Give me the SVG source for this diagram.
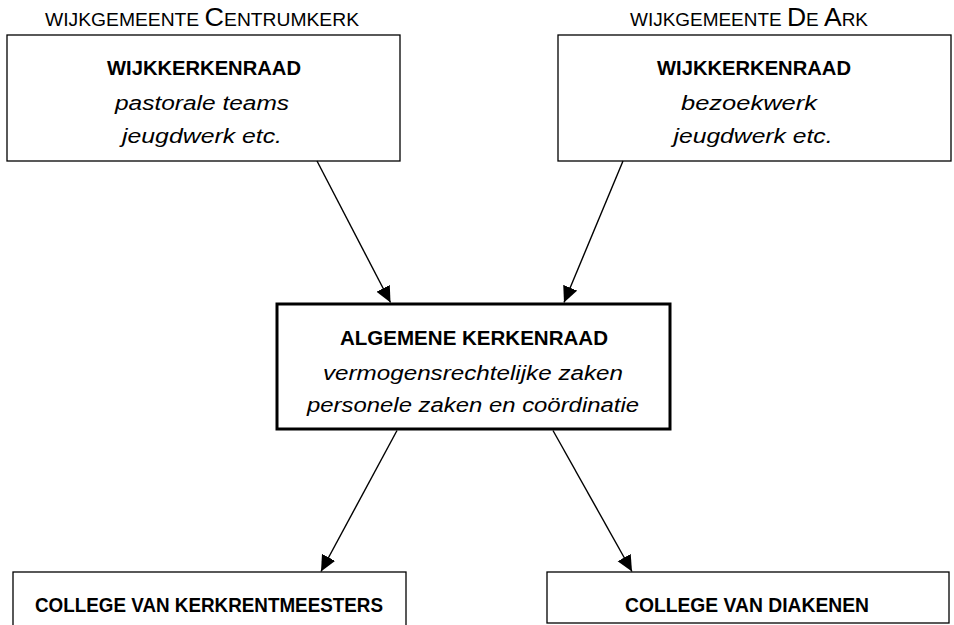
<svg xmlns="http://www.w3.org/2000/svg" width="954" height="625" viewBox="0 0 954 625">
<style>
text{font-family:"Liberation Sans",Arial,sans-serif;fill:#000;text-anchor:middle}
.t{font-size:18.6px}
.tb{font-size:26px}
.b{font-weight:bold;font-size:19.5px}
.i{font-style:italic;font-size:20.5px}
.box{fill:#fff;stroke:#000;stroke-width:1.3}
.main{fill:#fff;stroke:#000;stroke-width:3}
.conn{stroke:#000;stroke-width:1.4;fill:none;marker-end:url(#ah)}
</style>
<defs>
<marker id="ah" markerUnits="userSpaceOnUse" markerWidth="18" markerHeight="16" refX="16" refY="7.5" orient="auto">
<path d="M0,0 L16,7.5 L0,15 z" fill="#000"/>
</marker>
</defs>
<rect width="954" height="625" fill="#fff"/>
<g id="title-centrumkerk">
<text x="202" y="26" textLength="314" lengthAdjust="spacingAndGlyphs"><tspan class="t">WIJKGEMEENTE </tspan><tspan class="tb">C</tspan><tspan class="t">ENTRUMKERK</tspan></text>
</g>
<g id="title-deark">
<text x="749" y="26" textLength="238" lengthAdjust="spacingAndGlyphs"><tspan class="t">WIJKGEMEENTE </tspan><tspan class="tb">D</tspan><tspan class="t">E </tspan><tspan class="tb">A</tspan><tspan class="t">RK</tspan></text>
</g>
<g id="wijk-centrum">
<rect class="box" x="7" y="35" width="393" height="126"/>
<text class="b" x="204" y="75" textLength="194" lengthAdjust="spacingAndGlyphs">WIJKKERKENRAAD</text>
<text class="i" x="202" y="110" textLength="174" lengthAdjust="spacingAndGlyphs">pastorale teams</text>
<text class="i" x="202" y="143" textLength="160" lengthAdjust="spacingAndGlyphs">jeugdwerk etc.</text>
</g>
<g id="wijk-ark">
<rect class="box" x="558" y="35" width="393" height="126"/>
<text class="b" x="754" y="75" textLength="194" lengthAdjust="spacingAndGlyphs">WIJKKERKENRAAD</text>
<text class="i" x="749" y="110" textLength="136" lengthAdjust="spacingAndGlyphs">bezoekwerk</text>
<text class="i" x="753" y="143" textLength="159" lengthAdjust="spacingAndGlyphs">jeugdwerk etc.</text>
</g>
<g id="algemene">
<rect class="main" x="277" y="304" width="393" height="125"/>
<text class="b" x="474" y="345" textLength="268" lengthAdjust="spacingAndGlyphs">ALGEMENE KERKENRAAD</text>
<text class="i" x="473" y="380" textLength="300" lengthAdjust="spacingAndGlyphs">vermogensrechtelijke zaken</text>
<text class="i" x="473" y="412" textLength="332" lengthAdjust="spacingAndGlyphs">personele zaken en coördinatie</text>
</g>
<g id="kerkrentmeesters">
<rect class="box" x="13" y="572" width="393" height="70"/>
<text class="b" x="209" y="612" textLength="348" lengthAdjust="spacingAndGlyphs">COLLEGE VAN KERKRENTMEESTERS</text>
</g>
<g id="diakenen">
<rect class="box" x="547" y="572" width="402" height="51"/>
<text class="b" x="747" y="612" textLength="244" lengthAdjust="spacingAndGlyphs">COLLEGE VAN DIAKENEN</text>
</g>
<g id="connectors">
<line class="conn" x1="317" y1="161" x2="390.5" y2="302.5"/>
<line class="conn" x1="623" y1="161" x2="564" y2="302.5"/>
<line class="conn" x1="397" y1="430.5" x2="321" y2="571.5"/>
<line class="conn" x1="553" y1="430.5" x2="632" y2="571.5"/>
</g>
</svg>
